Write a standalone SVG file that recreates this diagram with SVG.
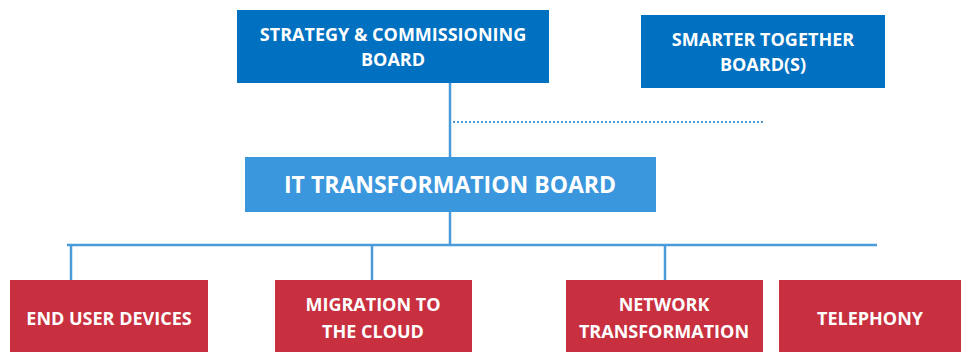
<svg xmlns="http://www.w3.org/2000/svg" width="961" height="352" viewBox="0 0 961 352">
  <style>
    .dark { fill: #0070C0; }
    .mid { fill: #3B97DD; }
    .red { fill: #C8303F; }
    .lbl { font-family: "Open Sans", "Liberation Sans", sans-serif; font-weight: bold; fill: #FFFFFF; text-anchor: middle; }
    .s17 { font-size: 18px; }
    .s22 { font-size: 23px; }
    .link { stroke: #4A9BD9; stroke-width: 2.5; fill: none; }
    .dots { stroke: #4A9BD9; stroke-width: 2; stroke-dasharray: 2 2; fill: none; }
  </style>

  <g id="connectors">
    <line class="link" x1="450" y1="83" x2="450" y2="157"/>
    <line class="dots" x1="453" y1="122" x2="763" y2="122"/>
    <line class="link" x1="450" y1="212" x2="450" y2="245"/>
    <line class="link" x1="67" y1="245" x2="877" y2="245"/>
    <line class="link" x1="71" y1="245" x2="71" y2="281"/>
    <line class="link" x1="372" y1="245" x2="372" y2="281"/>
    <line class="link" x1="665" y1="245" x2="665" y2="281"/>
  </g>

  <g id="strategy">
    <rect class="dark" x="237" y="10" width="312" height="73"/>
    <text class="lbl s17" x="393" y="41">STRATEGY &amp; COMMISSIONING</text>
    <text class="lbl s17" x="393" y="66">BOARD</text>
  </g>

  <g id="smarter">
    <rect class="dark" x="641" y="15" width="244" height="73"/>
    <text class="lbl s17" x="763" y="46">SMARTER TOGETHER</text>
    <text class="lbl s17" x="763" y="71">BOARD(S)</text>
  </g>

  <g id="it-board">
    <rect class="mid" x="245" y="157" width="411" height="55"/>
    <text class="lbl s22" x="450" y="193">IT TRANSFORMATION BOARD</text>
  </g>

  <g id="end-user">
    <rect class="red" x="10" y="280" width="198" height="72"/>
    <text class="lbl s17" x="109" y="325">END USER DEVICES</text>
  </g>

  <g id="migration">
    <rect class="red" x="275" y="280" width="197" height="72"/>
    <text class="lbl s17" x="373" y="311">MIGRATION TO</text>
    <text class="lbl s17" x="373" y="338">THE CLOUD</text>
  </g>

  <g id="network">
    <rect class="red" x="566" y="280" width="197" height="72"/>
    <text class="lbl s17" x="664" y="311">NETWORK</text>
    <text class="lbl s17" x="664" y="338">TRANSFORMATION</text>
  </g>

  <g id="telephony">
    <rect class="red" x="779" y="280" width="182" height="72"/>
    <text class="lbl s17" x="870" y="325">TELEPHONY</text>
  </g>
</svg>
